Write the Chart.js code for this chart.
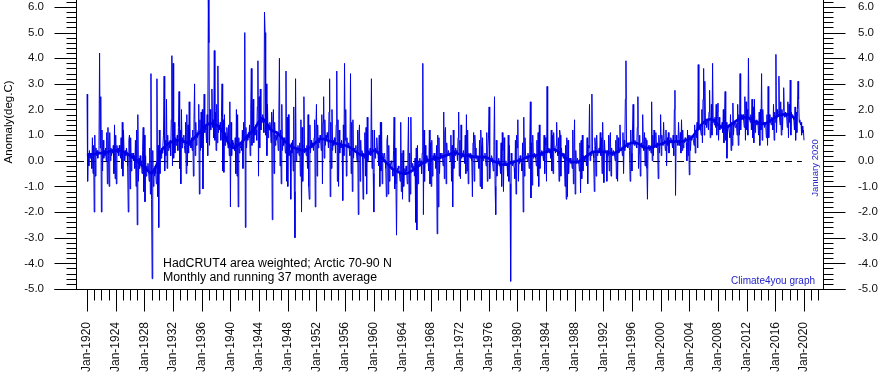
<!DOCTYPE html>
<html><head><meta charset="utf-8">
<script src="https://cdn.jsdelivr.net/npm/chart.js@4.4.1/dist/chart.umd.min.js"></script>
<style>html,body{margin:0;padding:0;background:#fff;}canvas{display:block;}</style>
</head><body>
<canvas id="c" width="880" height="375"></canvas>
<script>
// Monthly anomalies (deg C), HadCRUT4 Arctic 70-90N, Jan 1920 .. Jan 2020
const startYear = 1920;
const anomaly1920s = [
 2.6,-0.8,0.3,-0.2,0.4,0.1,0.3,0.2,-0.3,0.9,-0.5,0.6,
 -2.0,1.0,-0.6,0.5,0.2,0.4,0.1,0.3,0.6,4.2,0.5,2.5,
 -2.0,1.2,-0.4,0.8,0.1,0.4,0.2,0.5,0.0,1.1,-0.9,1.3,
 0.2,-1.0,1.1,0.0,0.5,0.2,0.4,0.3,0.6,-0.5,1.4,-0.7,
 1.0,-0.9,0.6,0.3,0.5,0.2,0.6,0.4,0.1,0.9,-0.3,1.5,
 -0.6,1.2,0.3,0.0,0.4,0.2,0.5,0.3,-0.2,-2.0,0.8,1.0,
 -1.1,0.9,-0.4,0.3,0.1,0.3,0.0,0.2,-0.3,0.8,-1.0,1.2,
 -2.5,1.8,-0.8,0.1,-0.3,0.2,-0.1,0.0,-0.5,0.4,1.3,-1.2,
 1.0,-1.6,0.2,-0.6,-0.2,-0.3,-0.1,-0.4,-0.8,0.5,-1.3,3.4,
 -1.5,-4.6,0.4,-1.0,-0.3,-0.6,-0.2,-0.5,-0.9,3.2,-1.4,0.6];
const anomaly1930s = [
 -2.6,1.2,-0.5,0.4,0.1,0.5,0.3,0.6,1.0,3.3,-0.4,0.8,
 0.2,2.4,-0.3,1.0,0.4,0.7,0.5,0.8,0.2,1.6,4.1,-0.2,
 3.8,0.1,1.5,0.3,0.9,0.6,0.8,1.0,0.4,1.3,2.7,-0.3,
 1.2,-0.9,2.0,0.5,0.9,0.7,1.0,0.6,0.3,1.5,-0.5,1.8,
 -0.2,1.4,0.3,2.3,0.6,0.8,0.5,0.9,0.4,1.2,-0.6,1.6,
 3.0,0.2,1.5,0.6,1.1,0.9,1.2,2.2,-1.3,1.6,0.4,1.9,
 0.5,2.0,-1.1,1.2,2.6,1.1,1.4,1.2,0.7,1.8,0.2,6.3,
 4.6,0.6,2.0,1.2,1.5,2.8,1.3,1.6,0.9,4.3,0.8,1.9,
 0.4,2.2,0.7,3.7,1.1,1.4,1.2,1.5,0.8,1.7,3.0,-0.4,
 1.6,-0.45,1.8,0.6,1.1,0.9,1.3,1.0,0.5,1.4,0.2,2.3];
const anomaly1940s = [
 -1.8,1.5,0.2,0.8,0.5,0.7,0.6,0.4,0.9,-0.5,2.0,-0.6,
 1.8,-1.8,0.9,0.3,0.6,0.5,0.7,0.4,1.2,-0.3,1.5,0.9,
 5.0,-2.6,1.3,0.5,1.0,0.8,1.1,0.9,1.4,0.2,2.0,3.6,
 0.6,1.8,2.4,0.7,1.3,1.0,1.4,1.2,0.8,2.1,3.9,-0.6,
 2.5,0.5,2.8,1.2,1.7,1.5,1.8,1.6,1.1,5.8,5.0,1.0,
 3.0,0.2,2.2,0.9,1.4,1.2,1.5,1.3,0.7,1.9,-2.3,1.6,
 2.0,-0.5,1.5,0.6,1.0,0.8,1.1,0.9,0.4,1.6,4.0,-0.2,
 1.2,-0.9,2.2,0.4,0.8,0.6,0.9,0.7,0.3,3.5,-0.8,1.7,
 -1.0,1.8,0.2,0.6,0.4,-1.5,0.7,0.3,0.8,-0.4,2.1,-1.2,
 -3.0,3.2,0.0,0.5,0.3,0.6,0.4,0.2,0.7,-0.6,1.6,-2.0];
const anomaly1950s = [
 1.3,-0.8,0.6,2.5,0.3,0.5,0.4,0.2,0.6,-0.3,1.8,-1.0,
 -1.5,1.4,0.3,0.8,0.5,0.7,0.6,0.4,0.9,1.6,-1.8,1.2,
 2.2,-0.6,1.4,0.5,0.9,0.7,1.0,0.8,0.4,1.8,-0.9,1.5,
 2.5,0.1,1.6,0.6,1.0,0.8,1.1,0.9,0.5,1.9,3.2,-1.4,
 1.5,-0.3,2.0,0.4,0.8,0.6,0.9,0.7,0.3,1.4,3.5,-0.8,
 1.6,-1.0,1.2,0.3,0.7,0.5,0.8,0.6,-1.55,1.4,0.2,3.8,
 0.8,2.0,-0.6,0.9,0.5,0.6,0.7,0.4,0.2,3.4,-0.5,1.5,
 -1.2,1.6,0.1,0.5,0.4,0.5,0.6,0.3,0.0,1.2,-2.1,1.0,
 1.4,-0.8,0.8,0.2,0.4,0.3,-1.5,0.3,0.1,1.1,-0.6,1.3,
 -1.3,1.7,0.0,0.4,0.3,0.4,0.5,0.2,3.2,-0.3,1.2,-0.5];
const anomaly1960s = [
 -2.0,1.2,0.1,0.5,0.3,0.9,0.4,0.3,-0.2,1.0,-1.0,1.5,
 -0.4,1.5,-0.9,0.3,0.1,0.2,0.3,0.0,-0.3,-1.4,0.8,1.0,
 -1.3,0.6,-0.8,-0.1,-0.2,0.0,-0.1,-0.3,-0.6,0.4,1.7,-1.1,
 0.5,-0.9,-2.9,-0.3,-0.4,-0.2,-0.3,-0.5,-0.8,1.5,-1.2,0.3,
 -1.5,0.4,-1.0,-0.4,-0.3,-0.5,-0.2,-0.4,-0.9,0.2,1.7,-1.6,
 0.3,-1.3,1.7,-0.2,-0.3,-0.1,-0.4,-0.2,-0.6,0.1,-2.4,0.5,
 -2.7,0.6,-0.9,0.0,-0.1,0.1,-0.2,0.0,-0.5,0.3,3.8,-2.1,
 1.2,-0.8,0.6,-0.1,0.2,0.0,0.1,-0.1,-0.4,1.2,-0.9,0.7,
 -1.0,0.8,-0.6,0.2,0.1,0.3,0.0,0.2,-0.3,0.6,-2.85,1.0,
 -1.8,0.9,-0.5,0.3,0.1,0.2,0.3,0.1,-0.2,1.9,-0.7,1.1];
const anomaly1970s = [
 1.3,-0.9,0.7,0.2,0.3,0.4,0.2,0.3,0.0,1.0,-0.8,0.6,
 -1.8,1.2,-0.3,0.4,0.2,0.5,0.3,0.4,0.0,0.9,1.9,-0.6,
 0.8,-0.7,1.4,0.1,0.3,0.2,0.4,0.2,-0.1,1.0,-0.5,1.8,
 -0.4,1.2,-0.9,0.3,0.2,0.1,0.3,0.2,0.0,-1.4,0.7,1.1,
 -0.8,1.0,0.5,0.1,0.2,0.0,0.2,0.1,-0.3,0.8,-1.0,1.2,
 0.6,-1.1,0.9,0.0,0.2,0.1,0.3,0.1,-0.2,1.1,-0.8,0.5,
 1.0,2.1,-0.7,0.1,0.0,0.2,0.1,-0.1,-0.4,0.6,2.5,-1.0,
 -2.1,0.8,-0.6,0.0,-0.1,0.1,-0.2,0.0,-0.5,0.7,-1.0,1.1,
 0.4,-1.2,0.9,-0.2,-0.1,0.0,-0.2,-0.1,-0.6,1.0,-0.8,0.6,
 -0.9,-4.7,0.3,-0.1,-0.2,0.0,-0.1,-0.3,-0.7,0.8,-1.3,1.0];
const anomaly1980s = [
 0.5,1.6,-0.8,0.1,-0.1,0.2,0.0,-0.1,-0.4,0.7,-2.0,1.7,
 -0.6,0.9,0.2,0.1,0.2,0.0,0.3,0.1,-0.3,0.6,2.3,-1.45,
 0.7,-0.95,1.0,0.1,0.2,0.3,0.2,0.1,-0.2,0.8,-0.6,1.1,
 -1.0,1.4,-0.3,0.3,0.2,0.4,0.3,0.2,0.0,1.0,-0.5,0.9,
 0.6,-0.8,2.9,0.3,0.4,0.5,0.3,0.4,0.1,1.2,-0.4,1.0,
 -0.5,1.1,0.4,0.5,0.3,0.6,1.5,0.4,0.2,0.9,-0.8,1.2,
 1.0,-0.6,0.5,0.2,0.3,0.1,0.3,0.2,-1.0,0.6,-1.5,0.9,
 -1.4,0.8,-0.5,0.1,0.0,0.1,-0.1,0.0,-0.3,1.2,-0.9,0.5,
 1.6,-1.3,0.4,-0.1,0.0,0.1,-0.1,0.0,-0.4,0.7,-1.25,0.8,
 -0.7,1.0,-0.4,0.2,0.1,0.0,0.2,0.1,-0.2,0.9,-0.9,0.6];
const anomaly1990s = [
 0.5,2.2,0.0,0.3,0.2,2.6,0.3,0.3,0.1,-1.2,0.9,0.6,
 -0.6,1.0,0.2,0.4,0.3,0.5,0.3,1.1,0.2,0.9,-0.5,1.5,
 0.4,-0.85,0.8,0.3,0.4,0.3,-0.8,0.4,0.2,1.0,-0.4,0.9,
 1.1,-0.6,0.5,0.3,0.2,0.4,0.3,0.2,0.0,0.8,-0.7,1.0,
 -0.8,0.9,0.3,0.5,1.4,0.6,0.4,0.5,0.2,1.1,-0.5,0.8,
 0.4,2.4,3.9,0.6,0.7,0.5,0.6,0.7,0.4,-0.8,1.2,0.3,
 -0.4,1.2,2.2,0.7,0.6,0.8,0.7,0.6,0.5,1.3,2.5,-0.3,
 0.3,1.0,-0.6,0.6,0.7,0.5,1.8,0.6,0.4,1.1,-0.2,0.9,
 0.8,-0.3,-1.5,0.5,0.6,0.4,0.6,0.5,0.3,2.3,0.0,1.0,
 0.2,1.2,0.5,0.6,1.1,0.5,0.7,0.6,-0.7,1.0,0.3,0.9];
const anomaly2000s = [
 1.8,0.2,1.0,0.7,0.6,1.5,0.8,0.7,0.4,1.2,-0.2,0.9,
 0.6,1.1,0.3,0.8,0.7,0.9,0.8,0.7,0.5,1.0,0.2,2.0,
 2.75,-1.35,1.0,0.7,0.8,0.6,1.5,0.8,0.6,1.1,0.3,1.6,
 0.4,1.2,0.5,0.8,0.7,0.9,0.8,0.7,0.0,1.2,0.2,1.0,
 -0.55,1.0,0.4,0.9,0.8,1.0,0.9,0.8,0.6,1.4,0.3,1.2,
 0.9,1.5,0.5,3.75,1.2,1.3,1.4,1.2,1.0,2.0,0.7,2.4,
 3.6,1.0,3.1,1.4,1.5,1.3,1.6,1.5,1.2,1.9,2.75,0.9,
 1.3,2.2,1.0,3.8,1.5,1.6,1.4,1.7,1.3,2.2,1.0,1.9,
 2.25,0.8,1.7,1.2,1.3,1.4,1.3,1.5,1.1,2.0,0.7,1.6,
 2.7,0.8,1.5,0.1,1.2,1.4,1.3,1.1,0.9,1.8,0.4,1.5];
const anomaly2010s = [
 0.6,2.25,1.0,1.5,1.4,1.3,1.5,1.4,1.0,2.2,0.6,1.8,
 1.0,3.4,1.2,1.8,1.6,1.7,1.8,1.6,1.3,2.5,0.8,2.3,
 1.2,2.0,1.0,4.0,1.6,1.7,1.5,1.8,1.2,2.4,0.9,2.1,
 0.7,2.4,1.1,1.5,1.4,1.6,1.5,1.4,1.0,1.9,0.6,2.0,
 1.2,3.4,0.8,2.0,1.4,1.5,1.3,1.5,1.4,0.9,1.8,0.6,
 2.9,0.9,1.8,1.5,1.6,1.4,1.7,1.6,1.2,2.2,0.8,1.9,
 1.5,4.15,1.1,2.0,1.7,1.9,3.3,1.7,1.4,2.3,1.0,2.0,
 1.2,2.0,2.85,1.8,1.7,1.9,1.8,1.7,1.3,2.3,0.9,2.2,
 1.5,3.15,1.0,1.9,1.7,1.8,1.7,1.6,1.2,2.1,0.8,1.9,
 1.1,2.0,3.1,2.4,1.5,1.6,1.4,1.5,1.0,1.35,1.1,1.2];
const anomaly2020 = [0.8];

// Running 37-month average, read at half-year steps from Jan 1920 to Jan 2019
const meanStep = 0.5;
const runningMean = [
 0.2,0.25,0.25,0.3,0.3,0.3,0.35,0.4,0.4,0.4,0.35,0.3,0.2,0.1,0.0,-0.15,-0.25,-0.4,-0.5,-0.3,
 0.05,0.45,0.6,0.7,0.75,0.8,0.8,0.75,0.7,0.75,0.9,1.05,1.2,1.35,1.45,1.45,1.4,1.3,1.1,0.8,
 0.55,0.5,0.6,0.7,0.85,1.0,1.15,1.3,1.55,1.65,1.5,1.25,1.15,1.1,0.95,0.8,0.65,0.55,0.5,0.45,
 0.4,0.4,0.5,0.6,0.75,0.85,0.85,0.8,0.75,0.7,0.65,0.6,0.6,0.55,0.45,0.35,0.25,0.2,0.22,0.3,
 0.4,0.35,0.15,0.0,-0.15,-0.3,-0.4,-0.45,-0.5,-0.5,-0.45,-0.35,-0.25,-0.15,-0.05,0.0,0.05,0.1,0.1,0.15,
 0.2,0.25,0.3,0.3,0.25,0.2,0.2,0.2,0.15,0.15,0.15,0.15,0.1,0.0,-0.05,-0.1,-0.15,-0.15,-0.1,-0.05,
 0.0,0.0,0.1,0.15,0.2,0.2,0.25,0.3,0.35,0.4,0.45,0.4,0.3,0.2,0.05,-0.05,-0.05,-0.05,0.05,0.15,
 0.25,0.35,0.35,0.35,0.35,0.35,0.3,0.3,0.35,0.45,0.55,0.65,0.7,0.7,0.65,0.55,0.5,0.5,0.55,0.6,
 0.65,0.7,0.75,0.75,0.75,0.75,0.75,0.8,0.85,0.95,1.15,1.35,1.5,1.6,1.62,1.58,1.4,1.3,1.3,1.35,
 1.45,1.55,1.65,1.7,1.7,1.65,1.55,1.5,1.45,1.45,1.5,1.6,1.7,1.78,1.8,1.82,1.8,1.7,1.6];

const yTickValues = [-5,-4,-3,-2,-1,0,1,2,3,4,5,6];
const xLabelYears = [1920,1924,1928,1932,1936,1940,1944,1948,1952,1956,1960,1964,1968,1972,1976,1980,1984,1988,1992,1996,2000,2004,2008,2012,2016,2020];
const zeroLineEnd = 2019.7;

const monthly = [].concat(anomaly1920s, anomaly1930s, anomaly1940s, anomaly1950s, anomaly1960s,
  anomaly1970s, anomaly1980s, anomaly1990s, anomaly2000s, anomaly2010s, anomaly2020);
const monthlyPoints = monthly.map((v, i) => ({x: startYear + i / 12, y: v}));
const meanPoints = runningMean.map((v, i) => ({x: startYear + i * meanStep, y: v}));

const BLUE = 'rgb(0,0,232)';
const FONT = "'Liberation Sans', Arial, sans-serif";

const decor = {
  id: 'decor',
  beforeDatasetsDraw(chart) {
    const {ctx, chartArea: a, scales: {x, y}} = chart;
    const py = Math.round(y.getPixelForValue(0)) + 0.5;
    ctx.save();
    ctx.strokeStyle = '#000'; ctx.lineWidth = 1;
    ctx.setLineDash([7, 5]);
    ctx.beginPath(); ctx.moveTo(a.left, py); ctx.lineTo(x.getPixelForValue(zeroLineEnd), py); ctx.stroke();
    ctx.restore();
  },
  afterDraw(chart) {
    const {ctx, chartArea: a, scales: {x, y}} = chart;
    ctx.save();
    ctx.strokeStyle = '#000'; ctx.lineWidth = 1;
    ctx.beginPath();
    const L = a.left - 0.5, R = a.right + 0.5, B = Math.round(a.bottom) + 0.5;
    ctx.moveTo(L, 0); ctx.lineTo(L, B);
    ctx.moveTo(R, 0); ctx.lineTo(R, B);
    ctx.moveTo(L - 22, B); ctx.lineTo(R + 22, B);
    for (let k = -25; k <= 31; k++) {
      const p = Math.round(y.getPixelForValue(k / 5)) + 0.5;
      const len = (k % 5 === 0) ? 22 : 10;
      ctx.moveTo(L - len, p); ctx.lineTo(L, p);
      ctx.moveTo(R, p); ctx.lineTo(R + len, p);
    }
    for (let yr = 1920; yr <= 2022; yr++) {
      const p = Math.round(x.getPixelForValue(yr)) + 0.5;
      const len = ((yr - 1920) % 4 === 0) ? 22 : 11;
      ctx.moveTo(p, B); ctx.lineTo(p, B + len);
    }
    ctx.stroke();

    ctx.fillStyle = '#000';
    ctx.font = '11.5px ' + FONT;
    ctx.save();
    ctx.translate(9, 122); ctx.rotate(-Math.PI / 2);
    ctx.textAlign = 'center'; ctx.textBaseline = 'middle';
    ctx.fillText('Anomaly(deg.C)', 0, 0);
    ctx.restore();

    ctx.font = '12.3px ' + FONT;
    ctx.textAlign = 'left'; ctx.textBaseline = 'alphabetic';
    ctx.fillText('HadCRUT4 area weighted; Arctic 70-90 N', 163, 267);
    ctx.fillText('Monthly and running 37 month average', 163, 281);

    ctx.fillStyle = '#2222cc';
    ctx.font = '10px ' + FONT;
    ctx.textAlign = 'right';
    ctx.fillText('Climate4you graph', 815, 284);
    ctx.save();
    ctx.translate(815, 168); ctx.rotate(-Math.PI / 2);
    ctx.textAlign = 'center'; ctx.textBaseline = 'middle';
    ctx.font = '9.5px ' + FONT;
    ctx.fillText('January 2020', 0, 0);
    ctx.restore();
    ctx.restore();
  }
};

const yCommon = (pos, width, pad) => ({
  type: 'linear', position: pos, min: -5, max: 6.27,
  grid: {display: false, drawTicks: false}, border: {display: false},
  afterBuildTicks: s => { s.ticks = yTickValues.map(v => ({value: v})); },
  afterFit: s => { s.width = width; s.paddingTop = 0; s.paddingBottom = 0; },
  ticks: {padding: pad, color: '#111', font: {family: FONT, size: 11.5}, callback: v => Number(v).toFixed(1)}
});

new Chart(document.getElementById('c'), {
  type: 'line',
  data: {
    datasets: [
      {data: meanPoints, borderColor: BLUE, borderWidth: 2.6, pointRadius: 0, tension: 0, borderJoinStyle: 'round', yAxisID: 'y'},
      {data: monthlyPoints, borderColor: BLUE, borderWidth: 1, pointRadius: 0, tension: 0, yAxisID: 'y'}
    ]
  },
  options: {
    responsive: false, animation: false, devicePixelRatio: 1,
    layout: {padding: 0},
    plugins: {legend: {display: false}, tooltip: {enabled: false}},
    scales: {
      x: {
        type: 'linear', min: 1918.6, max: 2022.65,
        grid: {display: false, drawTicks: false}, border: {display: false},
        afterBuildTicks: s => { s.ticks = xLabelYears.map(v => ({value: v})); },
        afterFit: s => { s.height = 86; s.paddingLeft = 0; s.paddingRight = 0; },
        ticks: {autoSkip: false, minRotation: 90, maxRotation: 90, padding: 33, color: '#111',
                font: {family: FONT, size: 12}, callback: v => 'Jan-' + v}
      },
      y: yCommon('left', 77, 33),
      y2: yCommon('right', 57, 35)
    }
  },
  plugins: [decor]
});
</script>
</body></html>
